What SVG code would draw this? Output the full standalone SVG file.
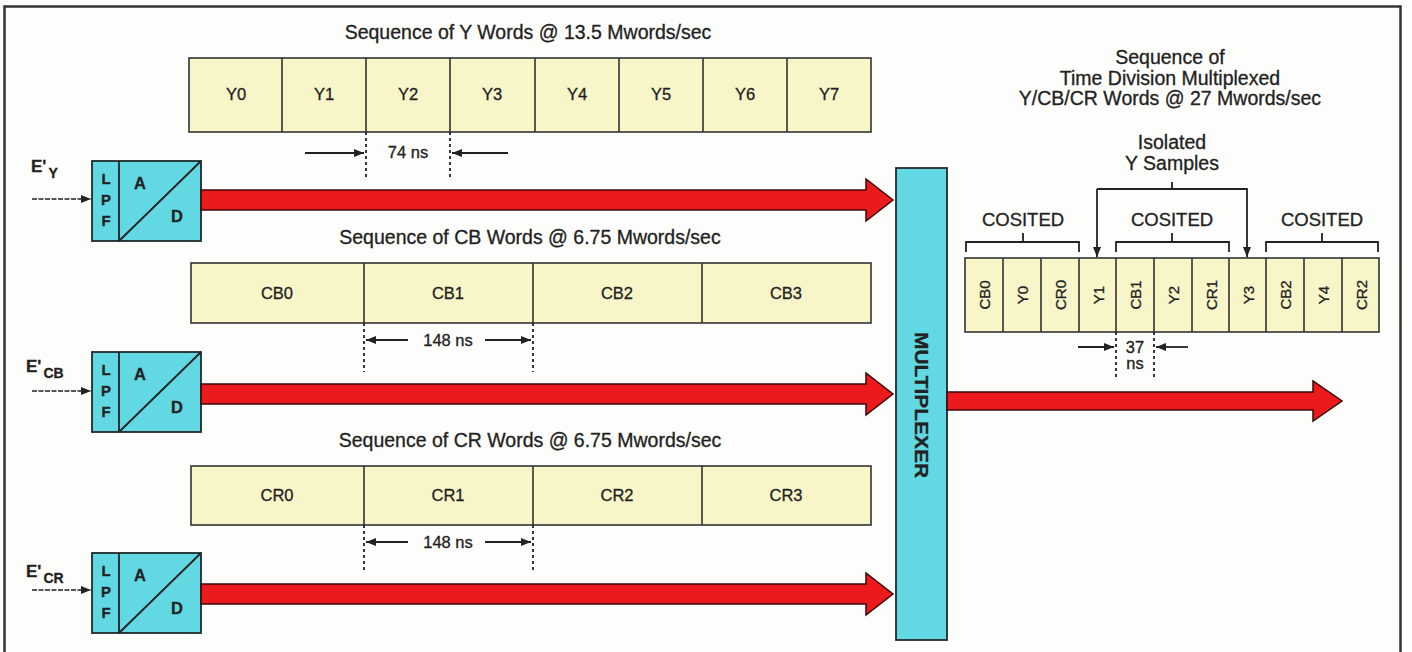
<svg xmlns="http://www.w3.org/2000/svg" width="1412" height="652" viewBox="0 0 1412 652">
<defs>
<style>
text{font-family:"Liberation Sans",Arial,Helvetica,sans-serif;fill:#222;stroke:#222;stroke-width:0.3}
.t{font-size:19.5px;text-anchor:middle}
.c{font-size:16.5px;text-anchor:middle}
.cell{fill:#f8f5c9;stroke:#333;stroke-width:1.6}
.div{stroke:#333;stroke-width:1.6}
.adc{fill:#62d8e2;stroke:#1f2a2c;stroke-width:1.8}
.red{fill:#ec1a1c;stroke:#3a0808;stroke-width:1.5}
.dash{stroke:#222;stroke-width:1.8;stroke-dasharray:3 3;fill:none}
.ln{stroke:#222;stroke-width:1.8;fill:none}
.in{stroke:#222;stroke-width:1.6;fill:none;stroke-dasharray:5 1.5}
.lb{font-size:15px;font-weight:bold;text-anchor:middle}
.ad{font-size:16.5px;font-weight:bold;text-anchor:middle}
.e{font-size:17px;font-weight:bold}
.es{font-size:14px;font-weight:bold}
.co{font-size:18.5px;text-anchor:middle}
.r{font-size:15px;text-anchor:middle}
</style>
<marker id="ah" viewBox="0 0 10 10" refX="10" refY="5" markerWidth="10" markerHeight="10" markerUnits="userSpaceOnUse" orient="auto"><path d="M0,1 L10,5 L0,9 Z" fill="#222"/></marker>
</defs>
<rect x="0" y="0" width="1412" height="652" fill="#fdfdfb"/>
<rect x="4.5" y="6.5" width="1396" height="660" fill="none" stroke="#333" stroke-width="2.5"/>

<!-- Y sequence -->
<g id="y-seq">
<text class="t" x="528" y="39">Sequence of Y Words @ 13.5 Mwords/sec</text>
<rect class="cell" x="189" y="58" width="682" height="74"/>
<path class="div" d="M282,58V132M366,58V132M450,58V132M535,58V132M619,58V132M703,58V132M787,58V132"/>
<text class="c" x="236" y="100">Y0</text>
<text class="c" x="324" y="100">Y1</text>
<text class="c" x="408" y="100">Y2</text>
<text class="c" x="492" y="100">Y3</text>
<text class="c" x="577" y="100">Y4</text>
<text class="c" x="661" y="100">Y5</text>
<text class="c" x="745" y="100">Y6</text>
<text class="c" x="829" y="100">Y7</text>
</g>

<!-- CB sequence -->
<g id="cb-seq">
<text class="t" x="530" y="244">Sequence of CB Words @ 6.75 Mwords/sec</text>
<rect class="cell" x="191" y="263" width="680" height="60"/>
<path class="div" d="M364,263V323M533,263V323M702,263V323"/>
<text class="c" x="277" y="299">CB0</text>
<text class="c" x="448" y="299">CB1</text>
<text class="c" x="617" y="299">CB2</text>
<text class="c" x="786" y="299">CB3</text>
</g>

<!-- CR sequence -->
<g id="cr-seq">
<text class="t" x="530" y="447">Sequence of CR Words @ 6.75 Mwords/sec</text>
<rect class="cell" x="191" y="466" width="680" height="59"/>
<path class="div" d="M364,466V525M533,466V525M702,466V525"/>
<text class="c" x="277" y="501">CR0</text>
<text class="c" x="448" y="501">CR1</text>
<text class="c" x="617" y="501">CR2</text>
<text class="c" x="786" y="501">CR3</text>
</g>

<!-- ADC blocks -->
<g id="adc-y">
<rect class="adc" x="92" y="161" width="109" height="80"/>
<path class="ln" d="M119,161V241M119,241L201,161"/>
<text class="lb" x="106" y="184">L</text>
<text class="lb" x="106" y="205">P</text>
<text class="lb" x="106" y="226">F</text>
<text class="ad" x="140" y="189">A</text>
<text class="ad" x="177" y="222">D</text>
<text class="e" x="31" y="172">E'<tspan class="es" dx="2" dy="6">Y</tspan></text>
</g>
<g id="adc-cb">
<rect class="adc" x="92" y="352" width="109" height="80"/>
<path class="ln" d="M119,352V432M119,432L201,352"/>
<text class="lb" x="106" y="375">L</text>
<text class="lb" x="106" y="396">P</text>
<text class="lb" x="106" y="417">F</text>
<text class="ad" x="140" y="380">A</text>
<text class="ad" x="177" y="413">D</text>
<text class="e" x="26" y="372">E'<tspan class="es" dx="2" dy="6">CB</tspan></text>
</g>
<g id="adc-cr">
<rect class="adc" x="92" y="553" width="109" height="80"/>
<path class="ln" d="M119,553V633M119,633L201,553"/>
<text class="lb" x="106" y="576">L</text>
<text class="lb" x="106" y="597">P</text>
<text class="lb" x="106" y="618">F</text>
<text class="ad" x="140" y="581">A</text>
<text class="ad" x="177" y="614">D</text>
<text class="e" x="26" y="577">E'<tspan class="es" dx="2" dy="6">CR</tspan></text>
</g>

<!-- Multiplexer -->
<g id="mux">
<rect class="adc" x="896" y="168" width="51" height="472"/>
<text x="921" y="405" transform="rotate(90 921 405)" text-anchor="middle" dominant-baseline="central" font-size="18" font-weight="bold" textLength="146" lengthAdjust="spacingAndGlyphs">MULTIPLEXER</text>
</g>

<!-- TDM output sequence -->
<g id="tdm-seq">
<text class="t" x="1170" y="64">Sequence of</text>
<text class="t" x="1170" y="85">Time Division Multiplexed</text>
<text class="t" x="1170" y="105">Y/CB/CR Words @ 27 Mwords/sec</text>
<text class="t" x="1172" y="149">Isolated</text>
<text class="t" x="1172" y="170">Y Samples</text>
<rect class="cell" x="965" y="258" width="414" height="74"/>
<path class="div" d="M1003,258V332M1041,258V332M1079,258V332M1116,258V332M1154,258V332M1192,258V332M1229,258V332M1266,258V332M1304,258V332M1342,258V332"/>
<text class="r" transform="translate(984 295) rotate(-90)" dominant-baseline="central">CB0</text>
<text class="r" transform="translate(1022 295) rotate(-90)" dominant-baseline="central">Y0</text>
<text class="r" transform="translate(1060 295) rotate(-90)" dominant-baseline="central">CR0</text>
<text class="r" transform="translate(1098 295) rotate(-90)" dominant-baseline="central">Y1</text>
<text class="r" transform="translate(1135 295) rotate(-90)" dominant-baseline="central">CB1</text>
<text class="r" transform="translate(1173 295) rotate(-90)" dominant-baseline="central">Y2</text>
<text class="r" transform="translate(1211 295) rotate(-90)" dominant-baseline="central">CR1</text>
<text class="r" transform="translate(1248 295) rotate(-90)" dominant-baseline="central">Y3</text>
<text class="r" transform="translate(1285 295) rotate(-90)" dominant-baseline="central">CB2</text>
<text class="r" transform="translate(1323 295) rotate(-90)" dominant-baseline="central">Y4</text>
<text class="r" transform="translate(1361 295) rotate(-90)" dominant-baseline="central">CR2</text>
<text class="co" x="1023" y="226">COSITED</text>
<text class="co" x="1172" y="226">COSITED</text>
<text class="co" x="1322" y="226">COSITED</text>
<path class="ln" d="M966,252V242H1079V252M1023,242V233M1116,252V242H1229V252M1172,242V233M1266,252V242H1378V252M1322,242V233"/>
</g>

<!-- connectors -->
<g id="connectors">
<path class="red" d="M201,190H866V179L893,200L866,221V210H201Z"/>
<path class="red" d="M201,384H866V373L893,394L866,415V404H201Z"/>
<path class="red" d="M201,584H866V573L893,594L866,615V604H201Z"/>
<path class="red" d="M947,392H1313V381L1342,401L1313,421V410H947Z"/>
<path class="in" d="M32,199H91" marker-end="url(#ah)"/>
<path class="in" d="M32,391H91" marker-end="url(#ah)"/>
<path class="in" d="M32,590H91" marker-end="url(#ah)"/>
<path class="ln" d="M1172,182V189M1097,189H1247V257" marker-end="url(#ah)"/>
<path class="ln" d="M1097,189V257" marker-end="url(#ah)"/>
<!-- timing markers -->
<path class="dash" d="M366,132V178M450,132V178"/>
<path class="ln" d="M305,153H364" stroke-width="1.6" marker-end="url(#ah)"/>
<path class="ln" d="M508,153H452" stroke-width="1.6" marker-end="url(#ah)"/>
<text class="c" x="408" y="158" font-size="17">74 ns</text>
<path class="dash" d="M364,323V372M533,323V372"/>
<path class="ln" d="M408,340H366" stroke-width="1.6" marker-end="url(#ah)"/>
<path class="ln" d="M485,340H531" stroke-width="1.6" marker-end="url(#ah)"/>
<text class="c" x="448" y="346" font-size="17">148 ns</text>
<path class="dash" d="M364,525V573M533,525V573"/>
<path class="ln" d="M408,542H366" stroke-width="1.6" marker-end="url(#ah)"/>
<path class="ln" d="M485,542H531" stroke-width="1.6" marker-end="url(#ah)"/>
<text class="c" x="448" y="548" font-size="17">148 ns</text>
<path class="dash" d="M1116,332V378M1154,332V378"/>
<path class="ln" d="M1078,347H1114" stroke-width="1.6" marker-end="url(#ah)"/>
<path class="ln" d="M1188,347H1156" stroke-width="1.6" marker-end="url(#ah)"/>
<text class="c" x="1135" y="353" font-size="16.5">37</text>
<text class="c" x="1135" y="369" font-size="16.5">ns</text>
</g>
</svg>
